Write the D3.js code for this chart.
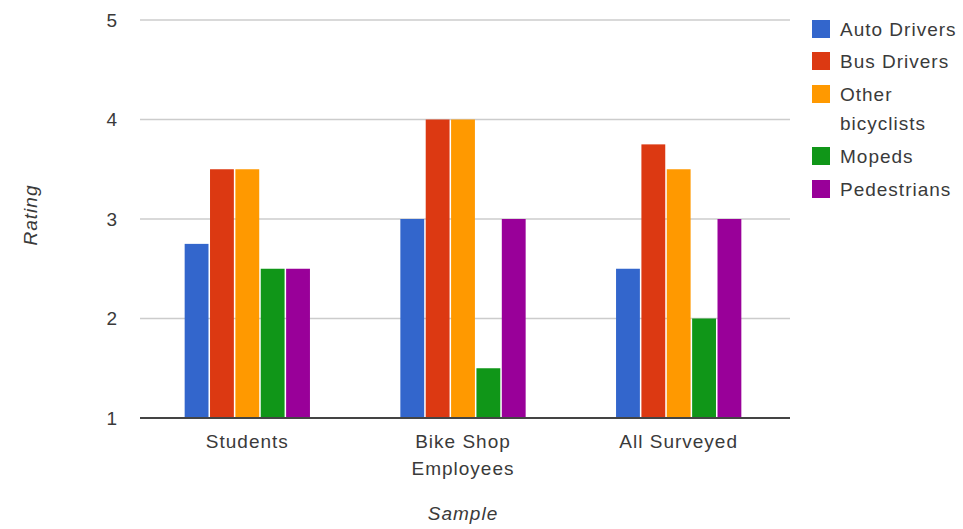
<!DOCTYPE html>
<html>
<head>
<meta charset="utf-8">
<script src="https://cdn.jsdelivr.net/npm/d3@7"></script>
<style>
  body { margin: 0; background: #fff; }
  text { font-family: "Liberation Sans", Arial, sans-serif; fill: #3a3a3a; font-size: 19px; letter-spacing: 1px; }
</style>
</head>
<body>
<svg id="chart" width="963" height="529"></svg>
<script>
var categories = ["Students", "Bike Shop Employees", "All Surveyed"];
var seriesNames = ["Auto Drivers", "Bus Drivers", "Other bicyclists", "Mopeds", "Pedestrians"];
var autoDrivers = [2.75, 3, 2.5];
var busDrivers = [3.5, 4, 3.75];
var otherBicyclists = [3.5, 4, 3.5];
var mopeds = [2.5, 1.5, 2];
var pedestrians = [2.5, 3, 3];
var yTicks = [1, 2, 3, 4, 5];

var seriesValues = [autoDrivers, busDrivers, otherBicyclists, mopeds, pedestrians];
var color = d3.scaleOrdinal(seriesNames, ["#3366cc", "#dc3912", "#ff9900", "#109618", "#990099"]);

var svg = d3.select("#chart");
var plotLeft = 140, plotRight = 790, plotTop = 20, plotBottom = 418;

var x0 = d3.scaleBand()
    .domain(categories)
    .range([plotLeft, plotRight - 4])
    .paddingInner(0.405)
    .paddingOuter(0.2);

var x1 = d3.scaleBand()
    .domain(seriesNames)
    .range([0, x0.bandwidth()])
    .padding(0.06);

var y = d3.scaleLinear().domain([1, 5]).range([plotBottom, plotTop]);

// gridlines
svg.append("g")
    .selectAll("line")
    .data(yTicks.slice(1))
    .enter().append("line")
    .attr("x1", plotLeft).attr("x2", plotRight)
    .attr("y1", d => y(d)).attr("y2", d => y(d))
    .attr("stroke", "#cccccc")
    .attr("stroke-width", 1.5);

// y tick labels
svg.append("g")
    .selectAll("text")
    .data(yTicks)
    .enter().append("text")
    .attr("x", 118)
    .attr("y", d => y(d))
    .attr("dy", "0.35em")
    .attr("text-anchor", "end")
    .text(d => d);

// bars
var groups = svg.append("g")
    .selectAll("g")
    .data(categories)
    .enter().append("g")
    .attr("transform", d => "translate(" + x0(d) + ",0)");

groups.selectAll("rect")
    .data((d, i) => seriesNames.map((s, j) => ({k: s, val: seriesValues[j][i]})))
    .enter().append("rect")
    .attr("x", d => x1(d.k))
    .attr("width", x1.bandwidth())
    .attr("y", d => y(d.val))
    .attr("height", d => plotBottom - y(d.val))
    .attr("fill", d => color(d.k));

// baseline
svg.append("line")
    .attr("x1", plotLeft).attr("x2", plotRight)
    .attr("y1", plotBottom).attr("y2", plotBottom)
    .attr("stroke", "#444")
    .attr("stroke-width", 2);

// category labels (wrapped like the original)
var catLines = {"Students": ["Students"], "Bike Shop Employees": ["Bike Shop", "Employees"], "All Surveyed": ["All Surveyed"]};
var catText = svg.append("g")
    .selectAll("text")
    .data(categories)
    .enter().append("text")
    .attr("text-anchor", "middle");
catText.selectAll("tspan")
    .data(d => catLines[d].map(t => ({t: t, cx: x0(d) + x0.bandwidth() / 2})))
    .enter().append("tspan")
    .attr("x", d => d.cx)
    .attr("y", (d, i) => 448 + i * 27)
    .text(d => d.t);

// axis titles
svg.append("text")
    .attr("x", 463).attr("y", 520)
    .attr("text-anchor", "middle")
    .style("font-style", "italic")
    .text("Sample");

svg.append("text")
    .attr("transform", "translate(37,215) rotate(-90)")
    .attr("text-anchor", "middle")
    .style("font-style", "italic")
    .text("Rating");

// legend
var legendLines = {"Other bicyclists": ["Other", "bicyclists"]};
var legendY = [20, 52, 85, 147, 180];
var legend = svg.append("g")
    .selectAll("g")
    .data(seriesNames)
    .enter().append("g")
    .attr("transform", (d, i) => "translate(812," + legendY[i] + ")");

legend.append("rect")
    .attr("width", 18)
    .attr("height", 18)
    .attr("fill", d => color(d));

legend.append("text")
    .selectAll("tspan")
    .data(d => legendLines[d] || [d])
    .enter().append("tspan")
    .attr("x", 28)
    .attr("y", (d, i) => 16 + i * 29)
    .text(d => d);
</script>
</body>
</html>
